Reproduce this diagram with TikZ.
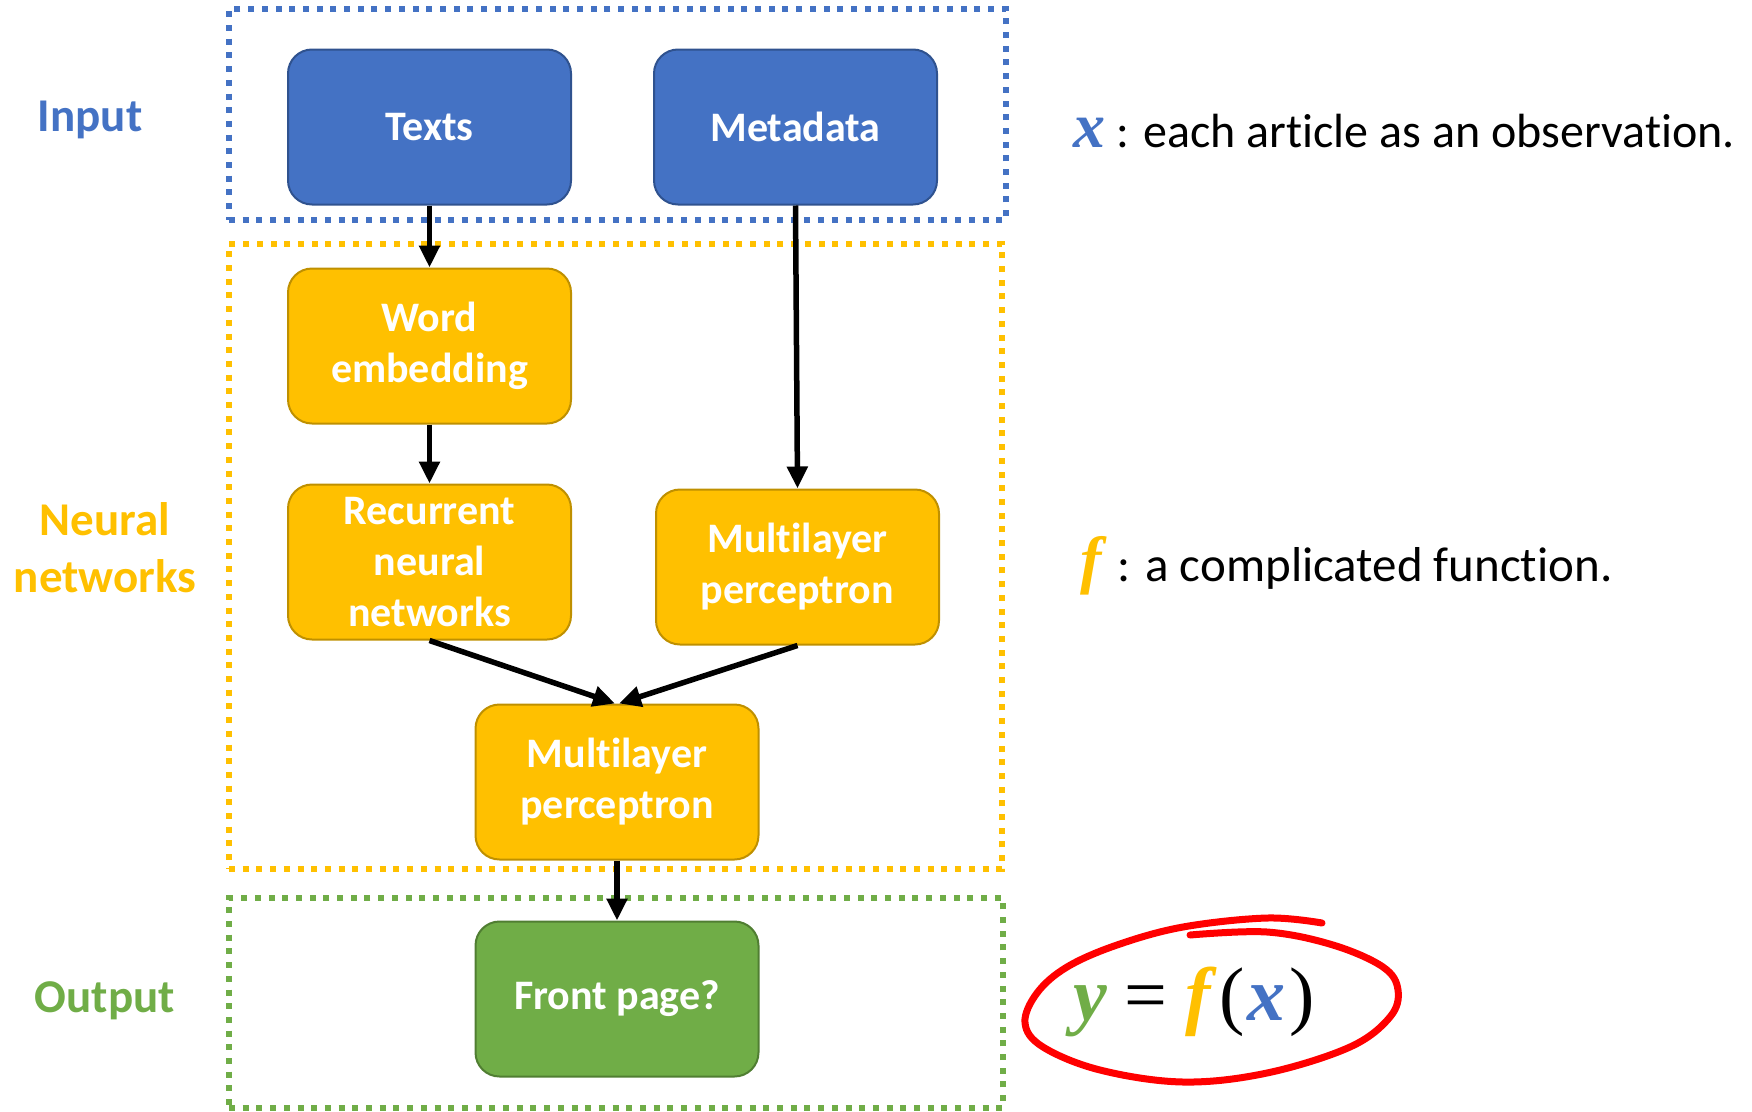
\documentclass[tikz,border=0pt]{standalone}
\usepackage{fontspec}
\setmainfont[Ligatures=NoCommon, RawFeature={-liga;-clig;-calt;-dlig}]{Carlito}
\newfontfamily\tms{Liberation Serif}
\usetikzlibrary{arrows.meta}
\definecolor{cblue}{HTML}{4472C4}
\definecolor{cblueD}{HTML}{2F528F}
\definecolor{corange}{HTML}{FFC000}
\definecolor{corangeD}{HTML}{BF9000}
\definecolor{cgreen}{HTML}{70AD47}
\definecolor{cgreenD}{HTML}{507E32}
\definecolor{cred}{HTML}{FF0000}
\newcommand{\mv}[2]{{\tms\bfseries\itshape\color{#1}#2}}
\tikzset{
  blk/.style={rectangle, rounded corners=24pt, minimum width=283pt, minimum height=155pt,
    line width=2pt, text=white, font=\fontsize{42}{51}\selectfont\bfseries, align=center, inner sep=0pt},
  bluebox/.style={blk, fill=cblue, draw=cblueD},
  orangebox/.style={blk, fill=corange, draw=corangeD},
  greenbox/.style={blk, fill=cgreen, draw=cgreenD},
  grp/.style={rectangle, inner sep=0pt, line width=6pt, dash pattern=on 6pt off 7.7pt},
  sidelabel/.style={font=\fontsize{47}{57}\selectfont\bfseries, align=center},
  desc/.style={font=\fontsize{49}{58}\selectfont, anchor=base west, inner sep=0pt},
  arr/.style={-{Triangle[length=22pt,width=20pt]}, line width=5.5pt},
}
\begin{document}
\begin{tikzpicture}[x=1pt,y=-1pt]
\useasboundingbox (0,0) rectangle (1752,1111);
% group frames
\node[grp, draw=cblue, minimum width=777pt, minimum height=211pt] (ginput) at (617.5,114.5) {};
\node[grp, draw=corange, minimum width=773pt, minimum height=625pt] (gnn) at (615.5,556.5) {};
\node[grp, draw=cgreen, minimum width=774pt, minimum height=210pt] (gout) at (616,1003) {};
% side labels
\node[sidelabel, text=cblue] (linput) at (90,120) {Input};
\node[sidelabel, text=corange] (lnn) at (105,548) {Neural\\networks};
\node[sidelabel, text=cgreen] (lout) at (105,1001) {Output};
% boxes
\node[bluebox] (texts) at (429.5,127) {Texts};
\node[bluebox] (meta) at (795.5,127) {Metadata};
\node[orangebox] (word) at (429.5,346) {Word\\embedding};
\node[orangebox] (rnn) at (429.5,562) {Recurrent\\neural\\networks};
\node[orangebox] (mlpa) at (797.5,567) {Multilayer\\perceptron};
\node[orangebox] (mlpb) at (617,782) {Multilayer\\perceptron};
\node[greenbox] (front) at (617,999) {Front page?};
% arrows
\draw[arr] (texts.south) -- (word.north);
\draw[arr] (meta.south) -- (mlpa.north);
\draw[arr] (word.south) -- (rnn.north);
\draw[arr] (rnn.south) -- ([xshift=-2pt]mlpb.north);
\draw[arr] (mlpa.south) -- ([xshift=2pt]mlpb.north);
\draw[arr] (mlpb.south) -- (front.north);
% descriptions
\node[desc, font=\fontsize{48}{58}\selectfont] (dx) at (1073,147) {{\fontsize{64}{64}\selectfont\mv{cblue}{x}}\hspace{11pt}: each article as an observation.};
\node[desc] (df) at (1080,581) {{\fontsize{64}{64}\selectfont\mv{corange}{f}}\hspace{16pt}: a complicated function.};
\node[font=\fontsize{76}{80}\selectfont\tms, anchor=base west, inner sep=0pt] (eq) at (1073,1020)
  {\mv{cgreen}{y}\hspace{18pt}=\hspace{18pt}\mv{corange}{f}\hspace{8pt}(\hspace{3pt}\mv{cblue}{x}\hspace{4pt})};
% red hand-drawn ellipse
\draw[cred, line width=7pt, line cap=round] plot[smooth, tension=0.6] coordinates {
 (1190,935) (1267,932) (1333,945) (1383,967) (1398,990) (1390,1017) (1350,1047)
 (1267,1073) (1183,1082) (1100,1070) (1043,1047) (1025,1023) (1037,993) (1067,967)
 (1117,945) (1183,927) (1267,918) (1322,923)};
\end{tikzpicture}
\end{document}
